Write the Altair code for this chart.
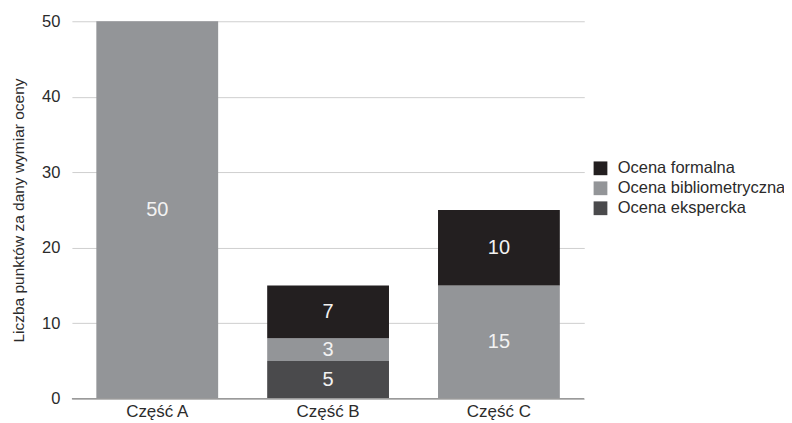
import altair as alt
import pandas as pd

parts = ["Część A", "Część B", "Część B", "Część B", "Część C", "Część C"]
series = ["Ocena bibliometryczna", "Ocena ekspercka", "Ocena bibliometryczna",
          "Ocena formalna", "Ocena bibliometryczna", "Ocena formalna"]
values = [50, 5, 3, 7, 15, 10]

legend_order = ["Ocena formalna", "Ocena bibliometryczna", "Ocena ekspercka"]
stack_rank = {"Ocena ekspercka": 0, "Ocena bibliometryczna": 1, "Ocena formalna": 2}
colors = ["#231f20", "#939598", "#4a4a4c"]

df = pd.DataFrame({"part": parts, "series": series, "value": values})
df["rank"] = df["series"].map(stack_rank)

FONT = "Liberation Sans"
TXT = "#2b2b2b"

x_enc = alt.X("part:N", title=None, sort=["Część A", "Część B", "Część C"],
              scale=alt.Scale(paddingInner=0.287, paddingOuter=0.143),
              axis=alt.Axis(labelAngle=0, ticks=False, domain=False, labelPadding=5,
                            labelFontSize=17, labelColor=TXT, labelFont=FONT))

bars = alt.Chart(df).mark_bar().encode(
    x=x_enc,
    y=alt.Y("value:Q", stack="zero", scale=alt.Scale(domain=[0, 50]),
            title="Liczba punktów za dany wymiar oceny",
            axis=alt.Axis(values=[0, 10, 20, 30, 40, 50], ticks=False, domain=False,
                          gridColor="#cfcfcf", labelPadding=12, labelFontSize=16.5,
                          labelColor=TXT, labelFont=FONT, titleFont=FONT,
                          titleFontSize=15.5, titleFontWeight="normal", titleColor=TXT,
                          titlePadding=15)),
    color=alt.Color("series:N", sort=legend_order,
                    scale=alt.Scale(domain=legend_order, range=colors),
                    legend=alt.Legend(title=None, orient="none", legendX=521, legendY=139,
                                      symbolType="square", symbolSize=190, symbolStrokeWidth=0,
                                      labelFontSize=16.5, labelFont=FONT, labelColor=TXT,
                                      labelLimit=400, rowPadding=3, labelOffset=9)),
    order=alt.Order("rank:Q", sort="ascending"),
)

labels = alt.Chart(df).transform_stack(
    stack="value", groupby=["part"], as_=["y0", "y1"],
    sort=[alt.SortField("rank", order="ascending")]
).transform_calculate(
    mid="(datum.y0 + datum.y1) / 2"
).mark_text(fontSize=20, font=FONT, color="#f2f2f2").encode(
    x=alt.X("part:N", sort=["Część A", "Część B", "Część C"]),
    y=alt.Y("mid:Q"),
    text=alt.Text("value:Q"),
)

zero = alt.Chart(pd.DataFrame({"v": [0]})).mark_rule(color="#9a9a9a", strokeWidth=1.5).encode(
    y="v:Q"
)

chart = alt.layer(bars, zero, labels).properties(
    width=513, height=378,
    autosize=alt.AutoSizeParams(type="none"),
    padding={"left": 64, "top": 13, "right": 200, "bottom": 30},
).configure(background="white").configure_view(stroke=None, strokeWidth=0)

chart.save("out.html", embed_options={"renderer": "svg", "actions": False})
